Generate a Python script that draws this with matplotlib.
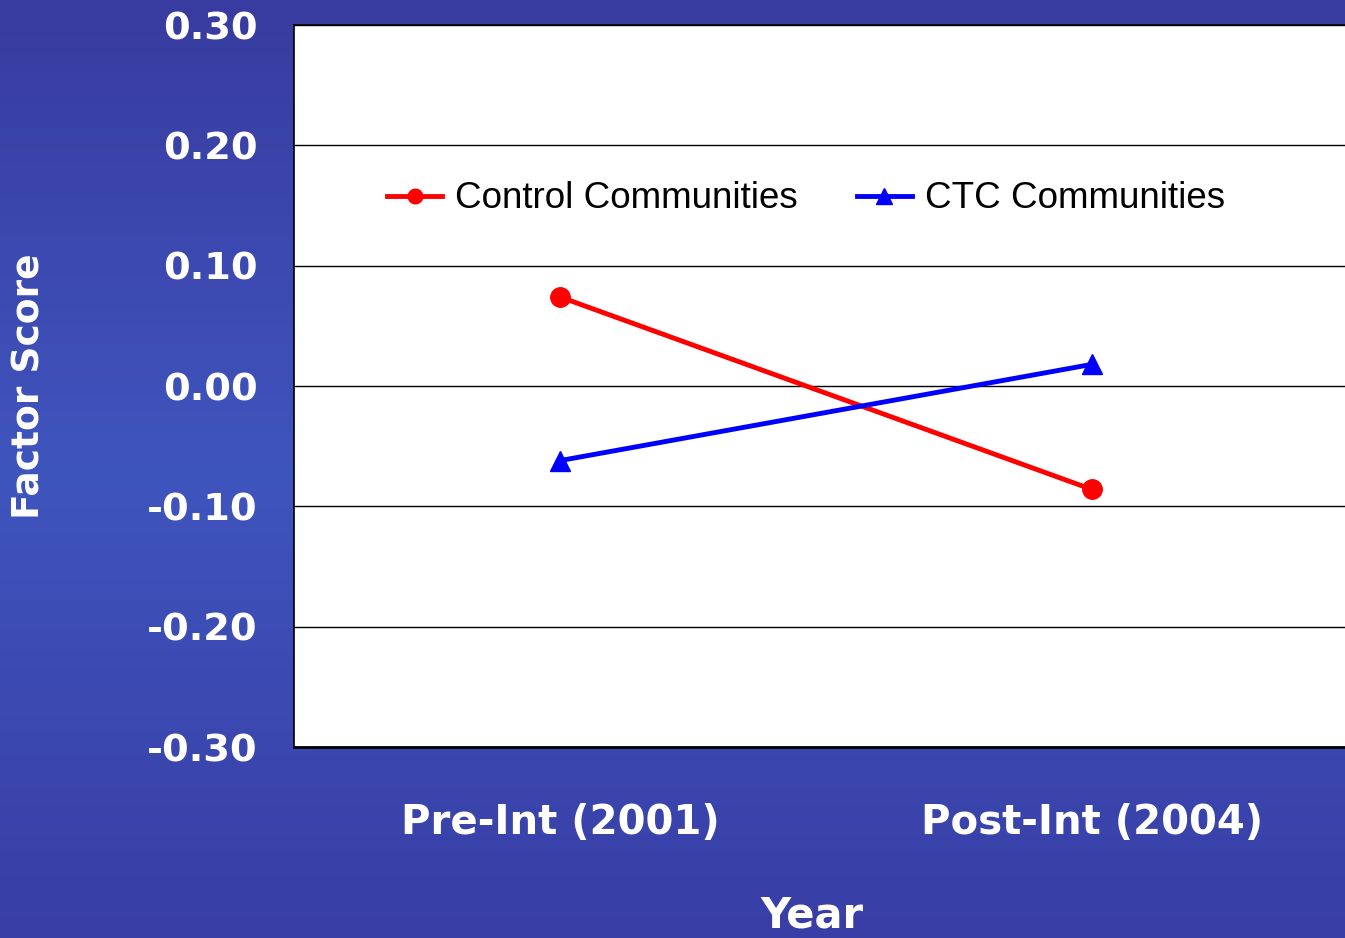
import numpy as np
from matplotlib import pyplot as plt
from matplotlib.colors import LinearSegmentedColormap

# Chart data
years = ["Pre-Int (2001)", "Post-Int (2004)"]
control_scores = [0.074, -0.086]
ctc_scores = [-0.062, 0.018]
y_ticks = [-0.30, -0.20, -0.10, 0.00, 0.10, 0.20, 0.30]

W, H = 1345, 938
fig = plt.figure(figsize=(W / 100, H / 100), dpi=100)

# Blue gradient background, lighter in the middle
bg = fig.add_axes([0, 0, 1, 1], zorder=-10)
cmap = LinearSegmentedColormap.from_list("bg", ["#383b9f", "#3f55be", "#383ea5"])
grad = np.linspace(0, 1, 256).reshape(-1, 1)
bg.imshow(grad, aspect="auto", cmap=cmap, extent=[0, 1, 0, 1])
bg.axis("off")

# Plot area
left, right, top, bottom = 294, 1358, 25, 747
ax = fig.add_axes([left / W, 1 - bottom / H, (right - left) / W, (bottom - top) / H])
ax.set_facecolor("white")

x = np.arange(len(years))
ax.plot(x, control_scores, color="#ff0000", lw=3.5, marker="o", markersize=14, label="Control Communities")
ax.plot(x, ctc_scores, color="#0000ff", lw=3.5, marker="^", markersize=15, label="CTC Communities")

ax.set_xlim(-0.5, 1.5)
ax.set_ylim(-0.30, 0.30)
ax.set_yticks(y_ticks)
ax.set_yticklabels([f"{v:.2f}" for v in y_ticks])
ax.set_xticks(x)
ax.set_xticklabels(years)
ax.tick_params(axis="y", length=0, pad=26, labelsize=27.5, labelcolor="white")
ax.tick_params(axis="x", length=0, pad=40, labelsize=29, labelcolor="white")
for lab in ax.get_xticklabels() + ax.get_yticklabels():
    lab.set_fontweight("bold")

ax.grid(axis="y", color="black", lw=1)
ax.set_axisbelow(True)
for spine in ["top", "left"]:
    ax.spines[spine].set_linewidth(1.2)
ax.spines["bottom"].set_linewidth(2)
ax.spines["right"].set_visible(False)

# Axis titles
fig.text(30 / W, 1 - 386 / H, "Factor Score", rotation=90, color="white", fontsize=27,
         fontweight="bold", ha="center", va="center")
fig.text(812 / W, 1 - 915 / H, "Year", color="white", fontsize=30,
         fontweight="bold", ha="center", va="center")

ax.legend(loc="center", bbox_to_anchor=(806 / W, 1 - 199 / H), bbox_transform=fig.transFigure,
          ncol=2, frameon=False, prop={"family": "Liberation Sans", "size": 26.5},
          handlelength=1.5, handletextpad=0.35, columnspacing=1.6, markerscale=0.75)

plt.savefig("out.png", dpi=100)
